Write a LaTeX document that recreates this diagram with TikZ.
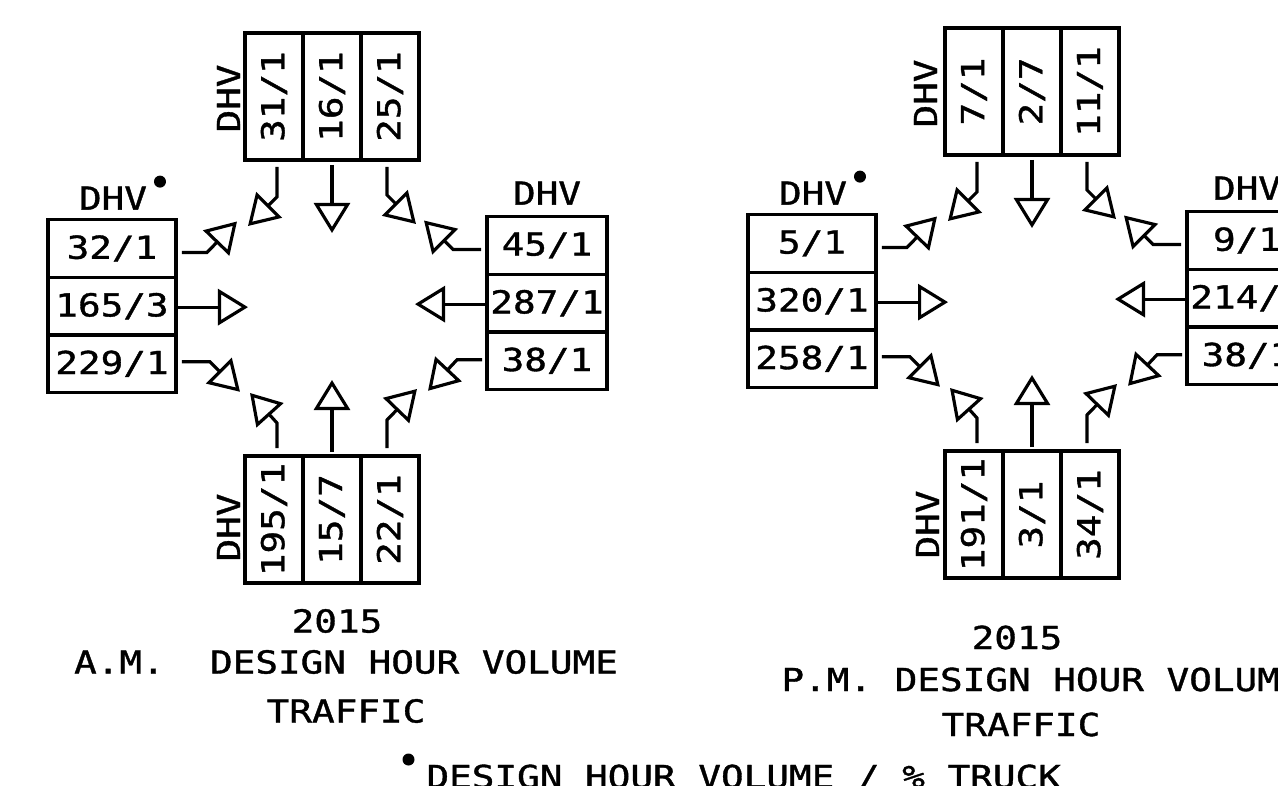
\documentclass[tikz,border=0pt]{standalone}
\usepackage{fontspec}
\usepackage{graphicx}
\newfontfamily\cadfont[FakeStretch=1.19,FakeBold=1.2]{DejaVu Sans Mono}
\frenchspacing
\usetikzlibrary{positioning}
\usetikzlibrary{calc}
\usetikzlibrary{arrows.meta}
\tikzset{txt/.style={inner sep=0pt,outer sep=0pt,font=\cadfont\fontsize{18}{20}\selectfont}}
\tikzset{cell/.style={txt,draw,line width=1.8pt}}
\tikzset{rowl/.style={cell,minimum width=2.56cm,minimum height=1.153cm}}
\tikzset{rowr/.style={cell,minimum width=2.4cm,minimum height=1.153cm}}
\tikzset{col/.style={cell,minimum width=1.16cm,minimum height=2.54cm}}
\tikzset{>={Triangle[open,length=0.6cm,width=0.72cm]}}

\begin{document}
\begin{tikzpicture}[x=0.02cm, y=-0.02cm, on grid, line width=1.8pt]
    \useasboundingbox (0,0) rectangle (1278,786);
    \clip (0,0) rectangle (1278,786);

    % A.M.
    \begin{scope}
        \node[col] (at1) at (274,96.5) {\rotatebox{90}{31/1}};
        \node[col, right=1.16cm of at1] (at2) {\rotatebox{90}{16/1}};
        \node[col, right=1.16cm of at2] (at3) {\rotatebox{90}{25/1}};
        \node[txt, rotate=90, anchor=south] (atl) at ($(at1.west)+(-5,2)$) {DHV};

        \node[rowl] (al1) at (112,248.5) {32/1};
        \node[rowl, below=1.153cm of al1] (al2) {165/3};
        \node[rowl, below=1.153cm of al2] (al3) {229/1};
        \node[txt, anchor=south] (all) at ($(al1.north)+(1,-10)$) {DHV};
        \fill ($(all.north east)+(13,-5)$) circle (0.12cm);

        \node[rowr] (ar1) at (547,245.5) {45/1};
        \node[rowr, below=1.153cm of ar1] (ar2) {287/1};
        \node[rowr, below=1.153cm of ar2] (ar3) {38/1};
        \node[txt, anchor=south] (arl) at ($(ar1.north)+(0,-12)$) {DHV};

        \node[col] (ab1) at (274,519.5) {\rotatebox{90}{195/1}};
        \node[col, right=1.16cm of ab1] (ab2) {\rotatebox{90}{15/7}};
        \node[col, right=1.16cm of ab2] (ab3) {\rotatebox{90}{22/1}};
        \node[txt, rotate=90, anchor=south] (abl) at ($(ab1.west)+(-5,8)$) {DHV};

        \draw[->] ($(at1.south)+(3,7)$) -- ++(0,30) -- ++(-29,29);
        \draw[->] ($(at2.south)+(0,5)$) -- ++(0,68);
        \draw[->] ($(at3.south)+(-3,7)$) -- ++(0,28) -- ++(29,29);
        \draw[->] ($(al1.east)+(6,4)$) -- ++(25,0) -- ++(30,-31);
        \draw[->] ($(al2.east)+(2,1)$) -- ++(70,0);
        \draw[->] ($(al3.east)+(6,-2)$) -- ++(28,0) -- ++(30,30);
        \draw[->] ($(ar1.west)+(-6,4)$) -- ++(-28,0) -- ++(-29,-29);
        \draw[->] ($(ar2.west)+(-2,1)$) -- ++(-70,0);
        \draw[->] ($(ar3.west)+(-5,-1)$) -- ++(-25,0) -- ++(-29,31);
        \draw[->] ($(ab1.north)+(3,-8)$) -- ++(0,-25) -- ++(-27,-30);
        \draw[->] ($(ab2.north)+(0,-4)$) -- ++(0,-72);
        \draw[->] ($(ab3.north)+(-3,-8)$) -- ++(0,-28) -- ++(30,-31);
    \end{scope}

    % P.M.
    \begin{scope}[shift={(700,-5)}]
        \node[col] (pt1) at (274,96.5) {\rotatebox{90}{7/1}};
        \node[col, right=1.16cm of pt1] (pt2) {\rotatebox{90}{2/7}};
        \node[col, right=1.16cm of pt2] (pt3) {\rotatebox{90}{11/1}};
        \node[txt, rotate=90, anchor=south] (ptl) at ($(pt1.west)+(-8,2)$) {DHV};

        \node[rowl] (pl1) at (112,248.5) {5/1};
        \node[rowl, below=1.153cm of pl1] (pl2) {320/1};
        \node[rowl, below=1.153cm of pl2] (pl3) {258/1};
        \node[txt, anchor=south] (pll) at ($(pl1.north)+(1,-10)$) {DHV};
        \fill ($(pll.north east)+(13,-5)$) circle (0.12cm);

        \node[rowr] (pr1) at (547,245.5) {9/1};
        \node[rowr, below=1.153cm of pr1] (pr2) {214/1};
        \node[rowr, below=1.153cm of pr2] (pr3) {38/1};
        \node[txt, anchor=south] (prl) at ($(pr1.north)+(0,-12)$) {DHV};

        \node[col] (pb1) at (274,519.5) {\rotatebox{90}{191/1}};
        \node[col, right=1.16cm of pb1] (pb2) {\rotatebox{90}{3/1}};
        \node[col, right=1.16cm of pb2] (pb3) {\rotatebox{90}{34/1}};
        \node[txt, rotate=90, anchor=south] (pbl) at ($(pb1.west)+(-6,10)$) {DHV};

        \draw[->] ($(pt1.south)+(3,7)$) -- ++(0,30) -- ++(-29,29);
        \draw[->] ($(pt2.south)+(0,5)$) -- ++(0,68);
        \draw[->] ($(pt3.south)+(-3,7)$) -- ++(0,28) -- ++(29,29);
        \draw[->] ($(pl1.east)+(6,4)$) -- ++(25,0) -- ++(30,-31);
        \draw[->] ($(pl2.east)+(2,1)$) -- ++(70,0);
        \draw[->] ($(pl3.east)+(6,-2)$) -- ++(28,0) -- ++(30,30);
        \draw[->] ($(pr1.west)+(-6,4)$) -- ++(-28,0) -- ++(-29,-29);
        \draw[->] ($(pr2.west)+(-2,1)$) -- ++(-70,0);
        \draw[->] ($(pr3.west)+(-5,-1)$) -- ++(-25,0) -- ++(-29,31);
        \draw[->] ($(pb1.north)+(3,-8)$) -- ++(0,-25) -- ++(-27,-30);
        \draw[->] ($(pb2.north)+(0,-4)$) -- ++(0,-72);
        \draw[->] ($(pb3.north)+(-3,-8)$) -- ++(0,-28) -- ++(30,-31);
    \end{scope}

    % titles
    \node[txt] (ayear) at (337,621) {2015};
    \node[txt] (atitle) at (346,662) {A.M.~~DESIGN HOUR VOLUME};
    \node[txt] (atraffic) at (346,711) {TRAFFIC};
    \node[txt] (pyear) at (1017,637.5) {2015};
    \node[txt] (ptitle) at (1042,679.5) {P.M.~DESIGN HOUR VOLUME};
    \node[txt] (ptraffic) at (1021,724.5) {TRAFFIC};
    \node[txt, anchor=base west] (note) at (426.5,788) {DESIGN HOUR VOLUME / \% TRUCK};
    \fill ($(note.north west)+(-18,-5)$) circle (0.12cm);
\end{tikzpicture}
\end{document}
